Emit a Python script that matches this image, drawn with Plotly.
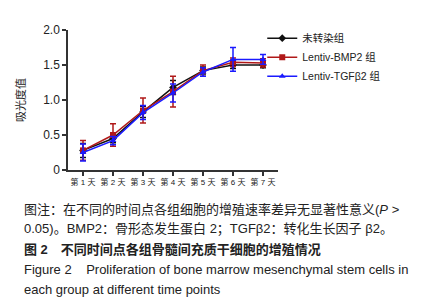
import plotly.graph_objects as go

days = ["第 1 天", "第 2 天", "第 3 天", "第 4 天", "第 5 天", "第 6 天", "第 7 天"]
series_names = ["未转染组", "Lentiv-BMP2 组", "Lentiv-TGFβ2 组"]
ctrl_mean = [0.28, 0.45, 0.83, 1.18, 1.42, 1.50, 1.50]
ctrl_err = [0.10, 0.06, 0.08, 0.10, 0.05, 0.05, 0.04]
bmp2_mean = [0.28, 0.50, 0.85, 1.12, 1.42, 1.54, 1.53]
bmp2_err = [0.14, 0.16, 0.18, 0.22, 0.08, 0.06, 0.06]
tgf_mean = [0.25, 0.42, 0.82, 1.10, 1.40, 1.58, 1.58]
tgf_err = [0.12, 0.06, 0.10, 0.13, 0.06, 0.17, 0.07]
y_ticks = [0, 0.5, 1.0, 1.5, 2.0]
y_ticktext = ["0", "0.5", "1.0", "1.5", "2.0"]

colors = ["#111111", "#b01818", "#1a1aff"]
symbols = ["diamond", "square", "triangle-up"]
means = [ctrl_mean, bmp2_mean, tgf_mean]
errs = [ctrl_err, bmp2_err, tgf_err]

FONT = "Arial, Liberation Sans, Noto Sans CJK SC, sans-serif"

fig = go.Figure()
for name, m, e, c, s in zip(series_names, means, errs, colors, symbols):
    fig.add_trace(go.Scatter(
        x=list(range(len(days))), y=m, name=name, mode="lines+markers",
        line=dict(color=c, width=1.5),
        marker=dict(color=c, symbol=s, size=6),
        error_y=dict(type="data", array=e, visible=True, color=c, thickness=1.5, width=3),
    ))

fig.update_layout(
    width=444, height=300,
    margin=dict(l=60, r=174, t=22, b=138, autoexpand=False),
    plot_bgcolor="white", paper_bgcolor="white",
    font=dict(family=FONT, color="#222"),
    showlegend=True,
    legend=dict(x=0.925, y=1.045, xanchor="left", yanchor="top",
                font=dict(size=10.5, family=FONT, color="#222"),
                bgcolor="rgba(0,0,0,0)", itemwidth=30, tracegroupgap=0),
    xaxis=dict(range=[-0.5, 6.5], tickmode="array", tickvals=list(range(len(days))),
               ticktext=days, tickangle=0, automargin=False, showgrid=False, zeroline=False,
               showline=True, linecolor="#333", linewidth=1.5, ticks="outside", ticklen=4,
               tickcolor="#333", tickwidth=1.5, tickfont=dict(size=8, color="#222")),
    yaxis=dict(range=[0, 2.0], tickmode="array", tickvals=y_ticks, ticktext=y_ticktext,
               automargin=False,
               showgrid=False, zeroline=False, showline=True, linecolor="#333",
               linewidth=1.5, ticks="outside", ticklen=4, tickcolor="#333", tickwidth=1.5,
               tickfont=dict(size=12, color="#222"),
               title=dict(text="吸光度值", font=dict(size=11, color="#222"), standoff=15)),
)

def px_x(px):
    return (px - 60) / 210.0

def px_y(py):
    return (162 - py) / 140.0

captions = [
    ("图注：在不同的时间点各组细胞的增殖速率差异无显著性意义(<i>P</i> >", 201),
    ("0.05)。BMP2：骨形态发生蛋白 2；TGFβ2：转化生长因子 β2。", 221),
    ("<b>图 2　不同时间点各组骨髓间充质干细胞的增殖情况</b>", 241),
    ("Figure 2    Proliferation of bone marrow mesenchymal stem cells in", 261),
    ("each group at different time points", 281),
]
for txt, py in captions:
    fig.add_annotation(text=txt, xref="paper", yref="paper", x=px_x(14), y=px_y(py),
                       xanchor="left", yanchor="middle", showarrow=False,
                       font=dict(size=13, family=FONT, color="#222"))

fig.write_html("out.html")
